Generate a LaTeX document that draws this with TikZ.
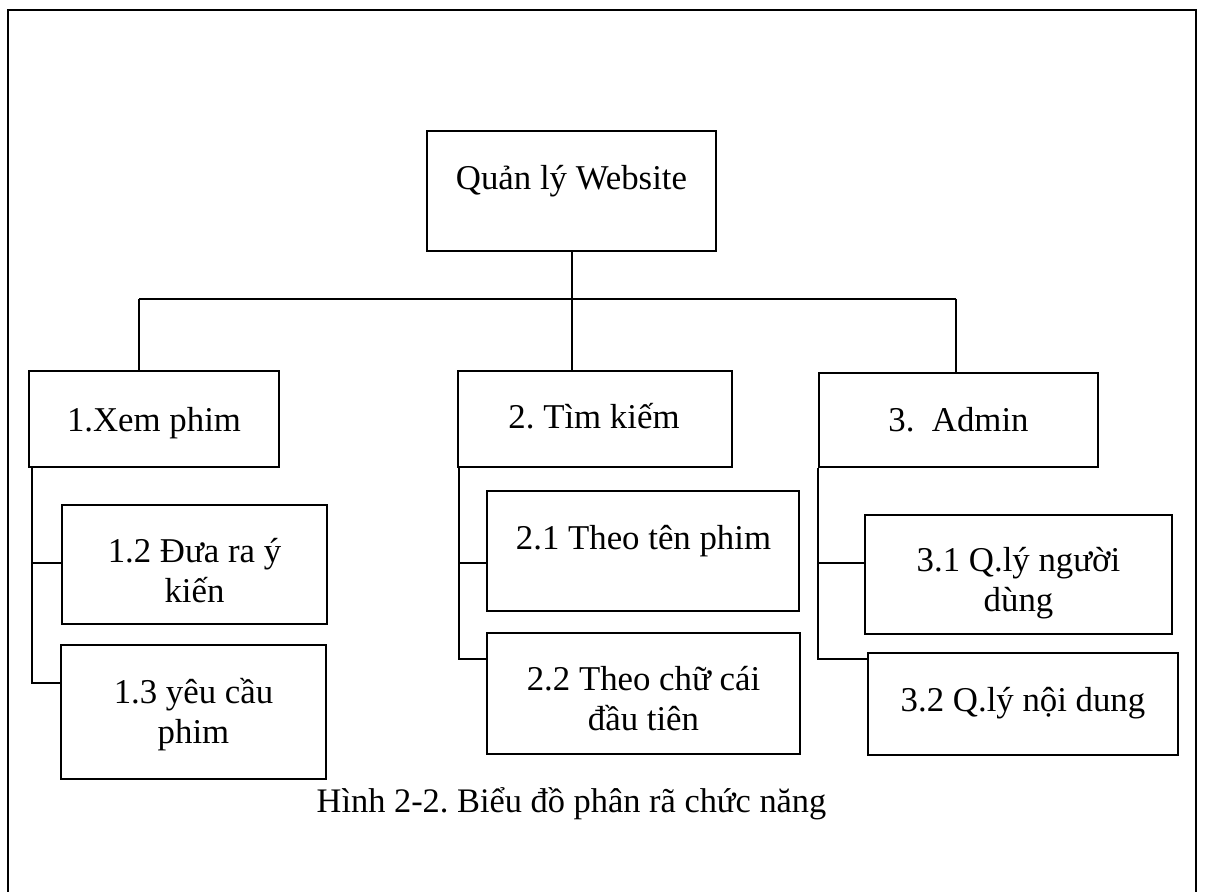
\documentclass[tikz,border=0pt]{standalone}
\usepackage{fontspec}
\setmainfont{Liberation Serif}
\frenchspacing
\begin{document}
\begin{tikzpicture}[x=0.5pt,y=-0.5pt,
  box/.style={draw, line width=1pt, inner sep=0pt},
  lbl/.style={anchor=base, align=center, inner sep=0pt, font=\fontsize{17.4}{19.8}\selectfont},
  captext/.style={anchor=base, inner sep=0pt, font=\fontsize{17.2}{19.8}\selectfont},
  wire/.style={line width=1pt},
  frame/.style={line width=1.4pt}]
\useasboundingbox (0,0) rectangle (1205,892);
% page frame, its lower edge runs off the page
\begin{scope}
  \clip (0,0) rectangle (1205,892);
  \draw[frame] (8,10) rectangle (1196,920);
\end{scope}

% boxes
\node[box, minimum width=144.5pt, minimum height=60pt]   (root) at (571.5,191) {};
\node[box, minimum width=125pt,   minimum height=48pt]   (b1)   at (154,419) {};
\node[box, minimum width=137pt,   minimum height=48pt]   (b2)   at (595,419) {};
\node[box, minimum width=139.5pt, minimum height=47pt]   (b3)   at (958.5,420) {};
\node[box, minimum width=132.5pt, minimum height=59.5pt] (b12)  at (194.5,564.5) {};
\node[box, minimum width=132.5pt, minimum height=67pt]   (b13)  at (193.5,712) {};
\node[box, minimum width=156pt,   minimum height=60pt]   (b21)  at (643,551) {};
\node[box, minimum width=156.5pt, minimum height=60.5pt] (b22)  at (643.5,693.5) {};
\node[box, minimum width=153.5pt, minimum height=59.5pt] (b31)  at (1018.5,574.5) {};
\node[box, minimum width=155pt,   minimum height=51pt]   (b32)  at (1023,704) {};

% texts (two-line labels are placed by the baseline of their last line)
\node[lbl] (troot) at (571.5,190) {Quản lý Website};
\node[lbl] (t1)    at (154,432)   {1.Xem phim};
\node[lbl] (t2)    at (594,429)   {2. Tìm kiếm};
\node[lbl] (t3)    at (958.5,432) {3.\ \ Admin};
\node[lbl] (t12)   at (194.5,602.5) {1.2 Đưa ra ý\\kiến};
\node[lbl] (t13)   at (193.5,743) {1.3 yêu cầu\\phim};
\node[lbl] (t21)   at (643.5,550) {2.1 Theo tên phim};
\node[lbl] (t22)   at (643.5,730.5) {2.2 Theo chữ cái\\đầu tiên};
\node[lbl] (t31)   at (1018.5,611.5) {3.1 Q.lý người\\dùng};
\node[lbl] (t32)   at (1023,711.5) {3.2 Q.lý nội dung};
\node[captext] (caption) at (571.5,812) {Hình 2-2. Biểu đồ phân rã chức năng};

% top-level bus
\coordinate (busL) at (139,299);
\coordinate (busR) at (956,299);
\draw[wire] (busL) -- (busR);
\draw[wire] (root.south) -- (root.south |- b2.north);
\draw[wire] (busL) -- (busL |- b1.north);
\draw[wire] (busR) -- (busR |- b3.north);

% branch 1
\coordinate (k12) at (32,563);
\coordinate (k13) at (32,683);
\draw[wire] (k12 |- b1.south) -- (k13) -- (k13 -| b13.west);
\draw[wire] (k12) -- (k12 -| b12.west);

% branch 2
\coordinate (k21) at (459,563);
\coordinate (k22) at (459,659);
\draw[wire] (k21 |- b2.south) -- (k22) -- (k22 -| b22.west);
\draw[wire] (k21) -- (k21 -| b21.west);

% branch 3
\coordinate (k31) at (818,563);
\coordinate (k32) at (818,659);
\draw[wire] (k31 |- b3.south) -- (k32) -- (k32 -| b32.west);
\draw[wire] (k31) -- (k31 -| b31.west);
\end{tikzpicture}
\end{document}
